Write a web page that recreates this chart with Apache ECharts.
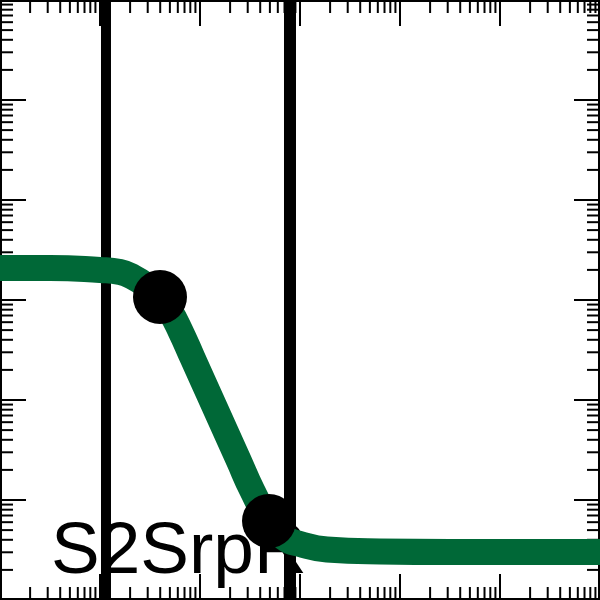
<!DOCTYPE html>
<html>
<head>
<meta charset="utf-8">
<style>html,body{margin:0;padding:0;background:#fff}#c{width:600px;height:600px}</style>
<script src="https://cdn.jsdelivr.net/npm/echarts@6/dist/echarts.min.js"></script>
</head>
<body>
<div id="c"></div>
<script>
// ---- data ----
const curveX = [1, 3.162, 10, 15.85, 21.5, 29.5, 39.81, 50.12, 63.10, 84.33, 108.1, 138.7, 177.8, 242.7, 331.1, 489.8, 700, 1000, 1862, 6310, 31623, 1e6];
const curveY = [2089, 2089, 1995, 1905, 1690, 1380, 1072, 776, 501, 263, 151.4, 87.1, 50.1, 25.1, 12.59, 6.166, 4.169, 3.631, 3.199, 3.055, 3.02, 3.02];
const pointX = [39.81, 489.8];
const pointY = [1072, 6.166];
const vlineX = [11.48, 794.3];
const labelText = 'S2SrpR';
// axis ticks (log decades and minor multipliers)
const decades = [1, 10, 100, 1000, 1e4, 1e5, 1e6];
const minorMultipliers = [2, 3, 4, 5, 6, 7, 8, 9];
const axisMin = 1, axisMax = 1e6;

const tickData = [];
decades.forEach(d => tickData.push([d, 1]));
decades.slice(0, -1).forEach(d => minorMultipliers.forEach(m => tickData.push([d * m, 0])));

const chart = echarts.init(document.getElementById('c'), null, {renderer: 'canvas'});

function tickRenderer(dir) {
  return function (params, api) {
    const v = api.value(0);
    const major = api.value(1) === 1;
    const L = major ? 26 : 13;
    const style = {stroke: '#000', lineWidth: 2};
    if (dir === 'x') {
      const b = api.coord([v, axisMin]);
      const t = api.coord([v, axisMax]);
      return {type: 'group', children: [
        {type: 'line', shape: {x1: b[0], y1: b[1], x2: b[0], y2: b[1] - L}, style},
        {type: 'line', shape: {x1: t[0], y1: t[1], x2: t[0], y2: t[1] + L}, style}
      ]};
    } else {
      const l = api.coord([axisMin, v]);
      const r = api.coord([axisMax, v]);
      return {type: 'group', children: [
        {type: 'line', shape: {x1: l[0], y1: l[1], x2: l[0] + L, y2: l[1]}, style},
        {type: 'line', shape: {x1: r[0], y1: r[1], x2: r[0] - L, y2: r[1]}, style}
      ]};
    }
  };
}

const option = {
  animation: false,
  grid: {left: 0, right: 0, top: 0, bottom: 0, show: true, borderColor: '#000', borderWidth: 4, backgroundColor: 'transparent'},
  xAxis: {type: 'log', logBase: 10, min: axisMin, max: axisMax, axisLine: {show: false}, axisTick: {show: false}, axisLabel: {show: false}, splitLine: {show: false}},
  yAxis: {type: 'log', logBase: 10, min: axisMin, max: axisMax, axisLine: {show: false}, axisTick: {show: false}, axisLabel: {show: false}, splitLine: {show: false}},
  graphic: [{
    type: 'text', z: 1,
    style: {text: labelText, x: 51, y: 553, font: '73px "Liberation Sans"', fill: '#000', verticalAlign: 'middle', align: 'left'}
  }],
  series: [
    {type: 'custom', z: 3, silent: true, renderItem: tickRenderer('x'), data: tickData.map(d => [d[0], d[1]]), encode: {x: 0}, dimensions: ['v', 'k']},
    {type: 'custom', z: 3, silent: true, renderItem: tickRenderer('y'), data: tickData.map(d => [d[0], d[1]]), encode: {y: 0}, dimensions: ['v', 'k']},
    {type: 'line', z: 5, silent: true, symbol: 'none', lineStyle: {color: '#000', width: 10}, data: [[vlineX[0], axisMin], [vlineX[0], axisMax]]},
    {type: 'line', z: 5, silent: true, symbol: 'none', lineStyle: {color: '#000', width: 12}, data: [[vlineX[1], axisMin], [vlineX[1], axisMax]]},
    {type: 'line', z: 10, silent: true, symbol: 'none', smooth: 0.5, lineStyle: {color: '#006837', width: 26, cap: 'butt', join: 'round'}, data: curveX.map((x, i) => [x, curveY[i]])},
    {type: 'scatter', z: 12, silent: true, symbol: 'circle', symbolSize: 54, itemStyle: {color: '#000', opacity: 1}, data: pointX.map((x, i) => [x, pointY[i]])}
  ]
};
chart.setOption(option);
</script>
</body>
</html>
